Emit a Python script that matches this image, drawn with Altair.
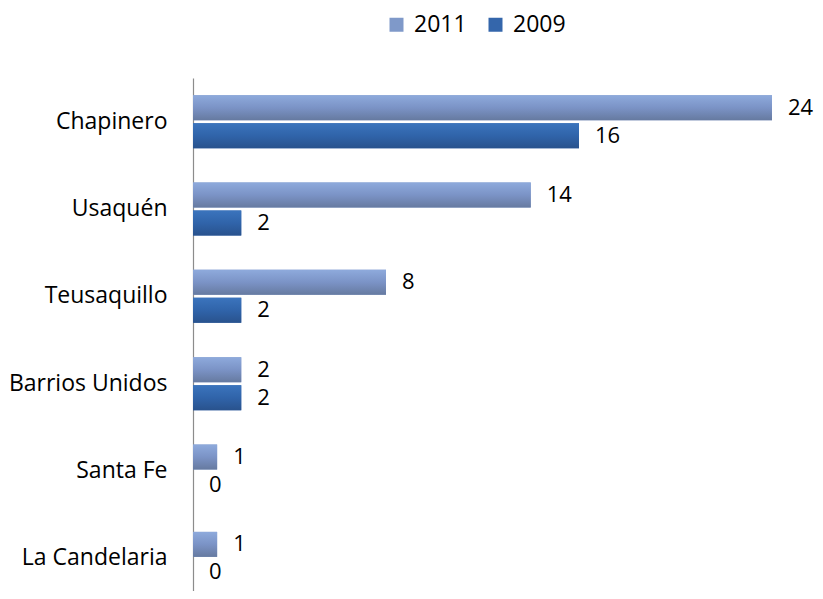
import altair as alt
import pandas as pd

categories = ["Chapinero", "Usaquén", "Teusaquillo", "Barrios Unidos", "Santa Fe", "La Candelaria"]
series = ["2011", "2009"]
values_2011 = [24, 14, 8, 2, 1, 1]
values_2009 = [16, 2, 2, 2, 0, 0]

rows = []
for c, a, b in zip(categories, values_2011, values_2009):
    rows.append({"cat": c, "series": "2011", "value": a})
    rows.append({"cat": c, "series": "2009", "value": b})
df = pd.DataFrame(rows)

FONT = "Open Sans"

y_enc = alt.Y(
    "cat:N", sort=categories,
    scale=alt.Scale(paddingInner=0.394, paddingOuter=0.197, range=[0, 524]),
    axis=alt.Axis(title=None, ticks=False, tickSize=0, labelFontSize=23, labelFont=FONT,
                  labelColor="#000000", labelPadding=26, domainColor="#8c8c8c",
                  domainWidth=1.2, grid=False),
)
yoff_enc = alt.YOffset("series:N", sort=series, scale=alt.Scale(domain=series, paddingInner=0.107, paddingOuter=0))
x_enc = alt.X("value:Q", scale=alt.Scale(domain=[0, 24], nice=False), axis=None)

base = alt.Chart(df).mark_bar().encode(
    y=y_enc, yOffset=yoff_enc, x=x_enc,
    color=alt.Color(
        "series:N", sort=series,
        scale=alt.Scale(domain=series, range=["#7f99c9", "#3466ab"]),
        legend=alt.Legend(orient="none", legendX=192, legendY=-65, direction="horizontal",
                          title=None, symbolType="square", symbolSize=196,
                          symbolStrokeWidth=0, labelFontSize=23, labelFont=FONT,
                          labelColor="#000000", labelOffset=6, columnPadding=17,
                          labelLimit=200),
    ),
)

def grad(stops):
    return alt.Gradient(
        gradient="linear",
        stops=[alt.GradientStop(color=c, offset=o) for o, c in stops],
        x1=0, x2=0, y1=0, y2=1,
    )

g2011 = alt.Chart(df).transform_filter(alt.datum.series == "2011").mark_bar(
    fill=grad([(0, "#8eaadc"), (0.5, "#7b93c6"), (1, "#667aa0")])
).encode(y=y_enc, yOffset=yoff_enc, x=x_enc)

g2009 = alt.Chart(df).transform_filter(alt.datum.series == "2009").mark_bar(
    fill=grad([(0, "#3b74bd"), (0.5, "#3064aa"), (1, "#29528d")])
).encode(y=y_enc, yOffset=yoff_enc, x=x_enc)

labels = alt.Chart(df).mark_text(
    align="left", baseline="middle", dx=16, fontSize=22, font=FONT, color="#000000"
).encode(y=y_enc, yOffset=yoff_enc, x=x_enc, text="value:Q")

chart = alt.layer(base, g2011, g2009, labels).properties(
    width=579, height=513,
    autosize=alt.AutoSizeParams(type="none"),
    padding={"left": 185, "top": 70, "right": 43, "bottom": 0},
    background="white",
).configure_view(stroke=None)

chart.save("out.html", embed_options={"renderer": "svg", "actions": False})
